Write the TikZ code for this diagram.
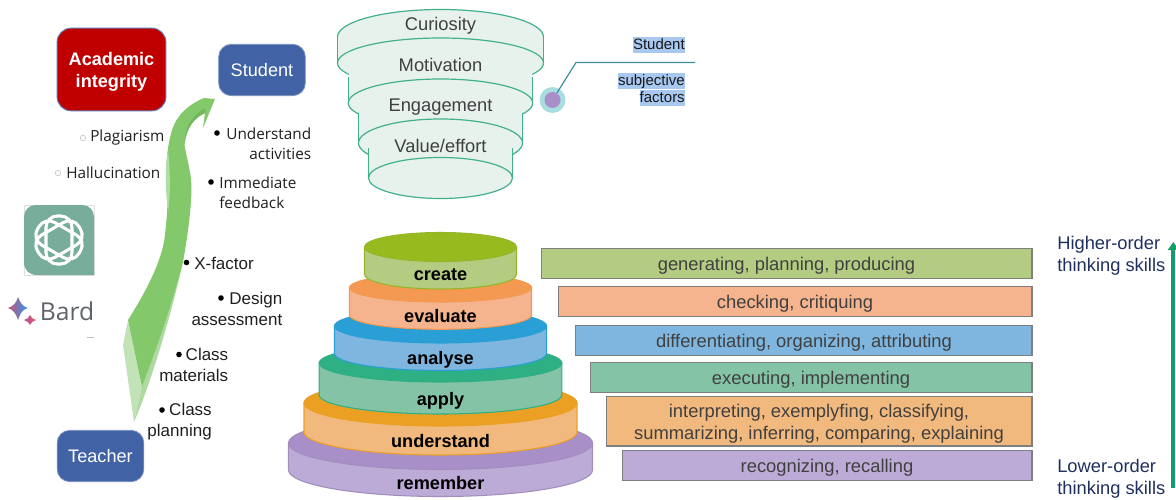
\documentclass[tikz,border=0pt]{standalone}
\usepackage{fontspec}
\setmainfont{Liberation Sans}
\newfontfamily\osans{Open Sans}
\usetikzlibrary{arrows.meta,shapes.geometric}
\definecolor{txt}{HTML}{404040}
\definecolor{navy}{HTML}{1F2F60}
\definecolor{blueb}{HTML}{4162A4}
\definecolor{aired}{HTML}{C00000}
\definecolor{funnelfill}{HTML}{E8F2EC}
\definecolor{funnelline}{HTML}{41B08C}
\definecolor{arrowgreen}{HTML}{83C96C}
\definecolor{arrowpale}{HTML}{C2E2B8}
\definecolor{arrowmid}{HTML}{AFD9A0}
\definecolor{arrowstrip}{HTML}{B2DCA5}
\definecolor{arrowdark}{HTML}{74B85E}
\definecolor{bargray}{HTML}{7F7F7F}
\definecolor{gptgreen}{HTML}{78AC9B}
\definecolor{bardgray}{HTML}{5F6368}
\definecolor{halo}{HTML}{A8DEE0}
\definecolor{dotpurple}{HTML}{A88FC8}
\definecolor{calloutline}{HTML}{3E8E9E}
\definecolor{hlblue}{HTML}{A8C8F0}
\definecolor{thinkarrow}{HTML}{12A06A}
\definecolor{sparkA}{HTML}{C85078}
\definecolor{sparkB}{HTML}{2D9BEB}
\definecolor{sparkC}{HTML}{AF50AA}
\definecolor{sparkD}{HTML}{E15F5F}
\definecolor{c1s}{HTML}{BCABD6}\definecolor{c1t}{HTML}{A88FC8}
\definecolor{c2s}{HTML}{F2B97E}\definecolor{c2t}{HTML}{EBA024}
\definecolor{c3s}{HTML}{84C3A6}\definecolor{c3t}{HTML}{2FB084}
\definecolor{c4s}{HTML}{7EB6DF}\definecolor{c4t}{HTML}{2A9FD6}
\definecolor{c5s}{HTML}{F5B48E}\definecolor{c5t}{HTML}{F39951}
\definecolor{c6s}{HTML}{B3CC82}\definecolor{c6t}{HTML}{97BB1E}
\newcommand{\cake}[8]{%
  \path[draw=#8,fill=#6,line width=.8pt] (#1-#4,#2) -- (#1-#4,#3)
    .. controls (#1-#4,#3+.5523*#5) and (#1-.5523*#4,#3+#5) .. (#1,#3+#5)
    .. controls (#1+.5523*#4,#3+#5) and (#1+#4,#3+.5523*#5) .. (#1+#4,#3)
    -- (#1+#4,#2) -- cycle;
  \path[fill=#7,draw=#8,line width=.8pt] (#1,#2) ellipse[x radius=#4,y radius=#5];}
\newcommand{\funnelcyl}[5]{%
  \path[fill=funnelfill] (#1,#2) ellipse[x radius=#4,y radius=#5];
  \path[fill=funnelfill] (#1-#4,#2) rectangle (#1+#4,#3);
  \path[draw=funnelline,line width=.9pt] (#1-#4,#2) -- (#1-#4,#3) (#1+#4,#2) -- (#1+#4,#3);
  \path[draw=funnelline,fill=funnelfill,line width=.9pt] (#1,#3) ellipse[x radius=#4,y radius=#5];}
\tikzset{
  boxb/.style={draw=blueb!70!white,fill=blueb,rounded corners=9.5pt,line width=.6pt,text=white,font=\fontsize{13.6}{16}\selectfont},
  barbox/.style={draw=bargray,line width=1.1pt},
  bartext/.style={text=txt,font=\fontsize{13.78}{16.4}\selectfont,align=center,inner sep=0pt},
  cakelabel/.style={font=\bfseries\fontsize{13.6}{16}\selectfont,text=black,inner sep=0pt,anchor=base},
  funneltext/.style={text=txt,font=\fontsize{13.75}{16}\selectfont,inner sep=0pt,anchor=base},
  item/.style={text=black!88,font=\fontsize{12.75}{15.75}\selectfont,inner sep=0pt},
  itemo/.style={text=black!88,font=\osans\fontsize{11.5}{14.7}\selectfont,inner sep=0pt},
  dotb/.style={circle,fill=black,inner sep=0pt,minimum size=4.2pt},
  doto/.style={circle,draw=black!25,fill=white,line width=.4pt,inner sep=0pt,minimum size=4.2pt},
  hl/.style={fill=hlblue,inner sep=0pt,text=black!90,font=\fontsize{11.25}{13}\selectfont,text height=9.4pt,text depth=3.1pt},
  thinking/.style={text=navy,font=\fontsize{13.75}{16.5}\selectfont,align=left,inner sep=0pt},
}
\begin{document}
\begin{tikzpicture}[x=.75pt,y=-.75pt]
\useasboundingbox (0,0) rectangle (1176,499);

% boxes
\node (ai) [draw=blueb!85,fill=aired,rounded corners=10.5pt,line width=.7pt,minimum width=81.6pt,minimum height=62pt,inner sep=0pt,text=white,align=center,font=\bfseries\fontsize{13.6}{16.5}\selectfont] at (111.5,69.5) {\rule{0pt}{13pt}Academic\\integrity};
\node (student) [boxb,minimum width=65pt,minimum height=38.5pt,inner sep=0pt] at (262,70) {Student};
\node (teacher) [boxb,minimum width=65pt,minimum height=38.5pt,inner sep=0pt] at (100.5,456) {Teacher};

% big arrow
\path[fill=arrowpale] (128,320) -- (123,345) -- (134,422) -- (142,387) -- cycle;
\path[fill=arrowmid] (142,387) -- (134,422) .. controls (150,385) and (170,320) .. (183,262) .. controls (175,295) and (160,340) .. (142,387) -- cycle;
\path[fill=arrowgreen] (204,98) -- (215,99) -- (203,128) -- (205,113)
  .. controls (194,118) and (186,128) .. (184.5,145)
  .. controls (187,160) and (192,175) .. (191.5,190)
  .. controls (191,215) and (186,245) .. (183,262)
  .. controls (175,295) and (160,340) .. (142,387)
  -- (128,320)
  .. controls (145,293) and (162,262) .. (165,235)
  .. controls (167,215) and (168,205) .. (167,190)
  .. controls (165,175) and (166,150) .. (172,130)
  .. controls (178,112) and (192,103) .. (204,98) -- cycle;
\path[fill=arrowstrip] (168,150) .. controls (165,170) and (165,185) .. (168,212) .. controls (171,190) and (170,170) .. (168,150) -- cycle;
\path[fill=arrowdark] (205,108) -- (205,113) .. controls (194,118) and (186,128) .. (184.5,145) .. controls (184,128) and (192,115) .. (205,108) -- cycle;

% left bullet lists
\node (dplag) [doto] at (83,138) {};
\node (plag) [itemo,anchor=west] at (90,138) {Plagiarism};
\node (dhal) [doto] at (58,173) {};
\node (hal) [itemo,anchor=west] at (66,173) {Hallucination};
\node (dund) [dotb] at (217,133) {};
\node (und) [itemo,anchor=east,align=right] at (311.5,143.5) {Understand\\activities};
\node (dimm) [dotb] at (211,182) {};
\node (imm) [itemo,anchor=west,align=left] at (219,193) {Immediate\\feedback};
\node (dxf) [dotb] at (186.5,262.5) {};
\node (xf) [item,anchor=west] at (194,263) {X-factor};
\node (ddes) [dotb] at (221,298) {};
\node (des) [item,anchor=east,align=right] at (282.5,309) {Design\\assessment};
\node (dmat) [dotb] at (179,354.5) {};
\node (mat) [item,anchor=east,align=right] at (228.5,365) {Class\\materials};
\node (dpla) [dotb] at (162,410) {};
\node (pla) [item,anchor=east,align=right] at (212,421.5) {Class\\planning};

% ChatGPT logo
\path[draw=black!12,line width=.4pt] (24,205) rectangle (94.3,275.5);
\path[fill=gptgreen] (24,217) .. controls (24,210) and (29,205) .. (36,205) -- (82,205) .. controls (89,205) and (94,210) .. (94,217) -- (94,275) -- (37,275) .. controls (29,275) and (24,270) .. (24,262) -- cycle;
\foreach \a in {30,90,150}{
  \draw[white,line width=2.3pt,rotate around={\a:(59,240)},rounded corners=8.5pt] (35,227) rectangle (83,253);
}
% Bard logo
\path[left color=sparkA,right color=sparkB]
  (8,308) .. controls (14,306) and (16,303) .. (18,297) .. controls (20,302) and (22,306) .. (27.5,308) .. controls (22,310) and (20,314) .. (18,320) .. controls (16,314) and (14,310) .. (8,308) -- cycle;
\path[left color=sparkC,right color=sparkD]
  (24,320) .. controls (27,319) and (29,318) .. (30,315) .. controls (31,318) and (33,319) .. (36,320) .. controls (33,321) and (31,322.5) .. (30,325) .. controls (29,322.5) and (27,321) .. (24,320) -- cycle;
\node (bard) [anchor=east,inner sep=0pt,text=bardgray,font=\osans\fontsize{18.5}{20}\selectfont] at (94.5,311) {Bard};
\path[draw=black!25,line width=.4pt] (87,337.5) -- (94,337.5);

% funnel
\path[fill=funnelfill] (440.5,37) ellipse[x radius=103,y radius=27.5];
\funnelcyl{440.5}{37}{63}{103}{25}
\path[draw=funnelline,line width=.9pt] (337.5,37) .. controls (337.5,21.8) and (383.6,9.5) .. (440.5,9.5) .. controls (497.4,9.5) and (543.5,21.8) .. (543.5,37);
\funnelcyl{440.5}{77}{103}{92.2}{24}
\funnelcyl{440.5}{113}{143}{82}{24}
\funnelcyl{440.5}{148}{178}{72}{20.5}
\node (cur) [funneltext] at (440.5,30.7) {Curiosity};
\node (mot) [funneltext] at (440.5,71.2) {Motivation};
\node (eng) [funneltext] at (440.5,111.7) {Engagement};
\node (val) [funneltext] at (440.5,152.4) {Value/effort};

% student factors callout
\node (halodisc) [circle,fill=halo,minimum size=19.5pt,inner sep=0pt] at (552.5,100) {};
\node (dot) [circle,fill=dotpurple,minimum size=12pt,inner sep=0pt] at (552.5,100) {};
\coordinate (elbow) at (576,62.5);
\coordinate (lineend) at (695,62.5);
\draw[draw=calloutline,line width=.9pt] (dot) -- (elbow) -- (lineend);
\node (sf1) [hl,anchor=east] at (685,45) {Student};
\node (sf2) [hl,anchor=east] at (685,81) {subjective};
\node (sf3) [hl,anchor=east] at (685,98) {factors};

% pyramid
\cake{440.5}{443}{470}{152}{26.5}{c1s}{c1t}{c1t!85!gray}
\cake{440.5}{403}{432}{136.5}{23}{c2s}{c2t}{c2t}
\cake{440.5}{363}{395}{121.3}{19}{c3s}{c3t}{c3t}
\cake{440.5}{326}{353.5}{106}{17}{c4s}{c4t}{c4t}
\cake{440.5}{287.7}{315}{91}{14.3}{c5s}{c5t}{c5t}
\cake{440.5}{247}{274.5}{76}{14.5}{c6s}{c6t}{c6t!90!gray}
\node (l6) [cakelabel] at (440.5,280.3) {create};
\node (l5) [cakelabel] at (440.5,322.3) {evaluate};
\node (l4) [cakelabel] at (440.5,364.3) {analyse};
\node (l3) [cakelabel] at (440.5,405.6) {apply};
\node (l2) [cakelabel] at (440.5,447.5) {understand};
\node (l1) [cakelabel] at (440.5,489.5) {remember};

% bars
\path[barbox,fill=c6s] (541.5,248.5) rectangle (1032,278.5);
\path[barbox,fill=c5s] (558.5,286.5) rectangle (1032,316.5);
\path[barbox,fill=c4s] (575.5,325.5) rectangle (1032,355.5);
\path[barbox,fill=c3s] (590.5,362.5) rectangle (1032,392.5);
\path[barbox,fill=c2s] (606.5,396.5) rectangle (1032,446);
\path[barbox,fill=c1s] (622.5,450.5) rectangle (1032,480.5);
\node (b6) [bartext,anchor=base] at (786.5,270.7) {generating, planning, producing};
\node (b5) [bartext,anchor=base] at (795,308.3) {checking, critiquing};
\node (b4) [bartext,anchor=base] at (804,347.3) {differentiating, organizing, attributing};
\node (b3) [bartext,anchor=base] at (811,384) {executing, implementing};
\node (b2) [bartext] at (819,423.5) {interpreting, exemplyfing, classifying,\\summarizing, inferring, comparing, explaining};
\node (b1) [bartext,anchor=base] at (827,472.3) {recognizing, recalling};

% thinking skills
\node (hi) [thinking,anchor=west] at (1057,256) {Higher-order\\thinking skills};
\node (lo) [thinking,anchor=west] at (1057,479) {Lower-order\\thinking skills};
\coordinate (arrlow) at (1173.3,488);
\coordinate (arrhigh) at (1173.3,242);
\draw[draw=thinkarrow,line width=3pt,-{Triangle[length=6pt,width=8pt]}] (arrlow) -- (arrhigh);
\end{tikzpicture}
\end{document}
